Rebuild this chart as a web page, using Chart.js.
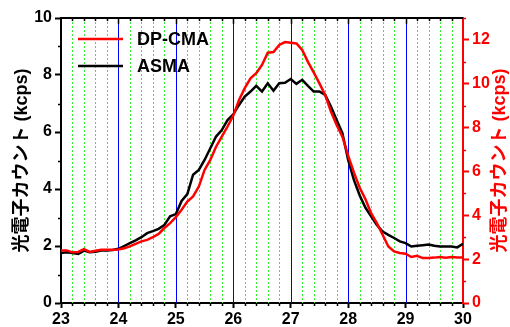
<!DOCTYPE html>
<html>
<head>
<meta charset="utf-8">
<script src="https://cdn.jsdelivr.net/npm/chart.js@4.4.1/dist/chart.umd.min.js"></script>
<style>
html, body { margin: 0; padding: 0; background: #fff; }
</style>
</head>
<body>
<canvas id="chart" width="510" height="327"></canvas>
<script>
// x positions (step 0.1)
var xValues = [23.0, 23.1, 23.2, 23.3, 23.4, 23.5, 23.6, 23.7, 23.8, 23.9,
               24.0, 24.1, 24.2, 24.3, 24.4, 24.5, 24.6, 24.7, 24.8, 24.9,
               25.0, 25.1, 25.2, 25.3, 25.4, 25.5, 25.6, 25.7, 25.8, 25.9,
               26.0, 26.1, 26.2, 26.3, 26.4, 26.5, 26.6, 26.7, 26.8, 26.9,
               27.0, 27.1, 27.2, 27.3, 27.4, 27.5, 27.6, 27.7, 27.8, 27.9,
               28.0, 28.1, 28.2, 28.3, 28.4, 28.5, 28.6, 28.7, 28.8, 28.9,
               29.0, 29.1, 29.2, 29.3, 29.4, 29.5, 29.6, 29.7, 29.8, 29.9,
               30.0];

// DP-CMA, right axis (kcps)
var dpcma = [2.40, 2.40, 2.31, 2.33, 2.46, 2.33, 2.38, 2.43, 2.43, 2.43,
             2.44, 2.50, 2.58, 2.70, 2.81, 2.88, 3.00, 3.15, 3.42, 3.64,
             3.92, 4.25, 4.63, 4.86, 5.31, 6.07, 6.53, 7.13, 7.59, 8.05,
             8.55, 9.26, 9.80, 10.25, 10.48, 10.86, 11.42, 11.45, 11.77, 11.90,
             11.87, 11.84, 11.54, 11.00, 10.52, 10.02, 9.49, 8.73, 8.12, 7.59,
             6.72, 5.96, 5.27, 4.74, 4.10, 3.64, 3.11, 2.58, 2.35, 2.28,
             2.25, 2.10, 2.15, 2.05, 2.05, 2.07, 2.10, 2.07, 2.10, 2.08,
             2.08];

// ASMA, left axis (kcps)
var asma = [1.75, 1.78, 1.75, 1.72, 1.84, 1.78, 1.80, 1.84, 1.84, 1.86,
            1.90, 2.00, 2.10, 2.20, 2.31, 2.45, 2.52, 2.60, 2.74, 3.04,
            3.12, 3.58, 3.82, 4.50, 4.67, 5.02, 5.43, 5.84, 6.07, 6.42,
            6.62, 6.95, 7.24, 7.42, 7.62, 7.42, 7.71, 7.45, 7.71, 7.73,
            7.86, 7.69, 7.83, 7.62, 7.42, 7.42, 7.30, 6.89, 6.42, 5.96,
            5.02, 4.32, 3.78, 3.35, 3.04, 2.74, 2.51, 2.39, 2.28, 2.16,
            2.10, 1.98, 2.01, 2.03, 2.05, 2.01, 1.98, 1.98, 1.98, 1.95,
            2.08];

var seriesNames = ['DP-CMA', 'ASMA'];
var yTitle = '光電子カウント (kcps)';

var fontLatin = '"Liberation Sans", Arial, sans-serif';
var fontTitle = 'bold 18px "Liberation Sans", "Noto Sans CJK JP", sans-serif';

function pts(ys) {
  return xValues.map(function (x, i) { return {x: x, y: ys[i]}; });
}

// grid lines, ticks, frame, titles, legend
var decor = {
  id: 'decor',
  beforeDatasetsDraw: function (chart) {
    var ctx = chart.ctx, a = chart.chartArea, x = chart.scales.x;
    ctx.save();
    ctx.lineWidth = 1;
    for (var k = 1; k < 35; k++) {
      var px = Math.round(x.getPixelForValue(23 + k * 0.2)) + 0.5;
      if (k % 5 === 0) {
        ctx.strokeStyle = '#0000ff';
        ctx.setLineDash([]);
      } else {
        ctx.strokeStyle = '#33ee33';
        ctx.setLineDash([2, 2]);
      }
      ctx.beginPath();
      ctx.moveTo(px, a.top);
      ctx.lineTo(px, a.bottom);
      ctx.stroke();
    }
    ctx.restore();
  },
  afterDraw: function (chart) {
    var ctx = chart.ctx, a = chart.chartArea, s = chart.scales;
    ctx.save();
    // top frame
    ctx.strokeStyle = '#000';
    ctx.lineWidth = 2;
    ctx.beginPath();
    ctx.moveTo(a.left - 1, a.top);
    ctx.lineTo(a.right, a.top);
    ctx.stroke();
    // top & bottom small ticks
    ctx.lineWidth = 1.5;
    for (var k = 1; k < 35; k++) {
      var px = Math.round(s.x.getPixelForValue(23 + k * 0.2)) + 0.5;
      var big = k % 5 === 0;
      ctx.beginPath();
      ctx.moveTo(px, a.top);
      ctx.lineTo(px, a.top + (big ? 6 : 3));
      if (!big) {
        ctx.moveTo(px, a.bottom);
        ctx.lineTo(px, a.bottom + 3);
      }
      ctx.stroke();
    }
    // left minor ticks
    for (var v = 1; v < 10; v += 2) {
      var py = Math.round(s.y.getPixelForValue(v)) + 0.5;
      ctx.beginPath();
      ctx.moveTo(a.left, py);
      ctx.lineTo(a.left - 3, py);
      ctx.stroke();
    }
    // right minor ticks
    ctx.strokeStyle = '#ff0000';
    for (var w = 1; w <= 13; w += 2) {
      var qy = Math.round(s.y1.getPixelForValue(w)) + 0.5;
      ctx.beginPath();
      ctx.moveTo(a.right, qy);
      ctx.lineTo(a.right + 3, qy);
      ctx.stroke();
    }
    // axis titles
    var cy = (a.top + a.bottom) / 2;
    ctx.font = fontTitle;
    ctx.textAlign = 'center';
    ctx.textBaseline = 'middle';
    ctx.fillStyle = '#000';
    ctx.save();
    ctx.translate(22, cy);
    ctx.rotate(-Math.PI / 2);
    ctx.fillText(yTitle, 0, 0);
    ctx.restore();
    ctx.fillStyle = '#ff0000';
    ctx.save();
    ctx.translate(500, cy);
    ctx.rotate(-Math.PI / 2);
    ctx.fillText(yTitle, 0, 0);
    ctx.restore();
    // legend
    ctx.font = 'bold 18px ' + fontLatin;
    ctx.textAlign = 'left';
    chart.data.datasets.forEach(function (ds, i) {
      var ly = 39 + i * 27;
      ctx.strokeStyle = ds.borderColor;
      ctx.lineWidth = 2.5;
      ctx.beginPath();
      ctx.moveTo(78, ly);
      ctx.lineTo(123, ly);
      ctx.stroke();
      ctx.fillStyle = '#000';
      ctx.fillText(ds.label, 137, ly + 1);
    });
    ctx.restore();
  }
};

new Chart(document.getElementById('chart'), {
  type: 'line',
  data: {
    datasets: [{
      label: seriesNames[0],
      data: pts(dpcma),
      yAxisID: 'y1',
      borderColor: '#ff0000',
      borderWidth: 2.5,
      pointRadius: 0,
      tension: 0
    }, {
      label: seriesNames[1],
      data: pts(asma),
      yAxisID: 'y',
      borderColor: '#000000',
      borderWidth: 2.5,
      pointRadius: 0,
      tension: 0
    }]
  },
  options: {
    responsive: false,
    animation: false,
    layout: { padding: { top: 18, left: 0, right: 0, bottom: 0 } },
    plugins: { legend: { display: false }, tooltip: { enabled: false } },
    scales: {
      x: {
        type: 'linear',
        min: 23,
        max: 30,
        afterFit: function (sc) { sc.height = 24; },
        ticks: { stepSize: 1, color: '#000', padding: 2, font: { family: fontLatin, size: 16, weight: 'bold' } },
        grid: { drawOnChartArea: false, tickColor: '#000', tickLength: 5, tickWidth: 2 },
        border: { color: '#000', width: 2 }
      },
      y: {
        position: 'left',
        min: 0,
        max: 10,
        afterFit: function (sc) { sc.width = 61; },
        ticks: { stepSize: 2, color: '#000', padding: 3, font: { family: fontLatin, size: 16, weight: 'bold' } },
        grid: { drawOnChartArea: false, tickColor: '#000', tickLength: 6, tickWidth: 2 },
        border: { color: '#000', width: 2 }
      },
      y1: {
        position: 'right',
        min: 0,
        max: 13,
        afterFit: function (sc) { sc.width = 47; },
        afterBuildTicks: function (sc) { sc.ticks = sc.ticks.filter(function (t) { return t.value <= 12; }); },
        ticks: { stepSize: 2, color: '#ff0000', padding: 3, font: { family: fontLatin, size: 16, weight: 'bold' } },
        grid: { drawOnChartArea: false, tickColor: '#ff0000', tickLength: 6, tickWidth: 2 },
        border: { color: '#ff0000', width: 2 }
      }
    }
  },
  plugins: [decor]
});
</script>
</body>
</html>
